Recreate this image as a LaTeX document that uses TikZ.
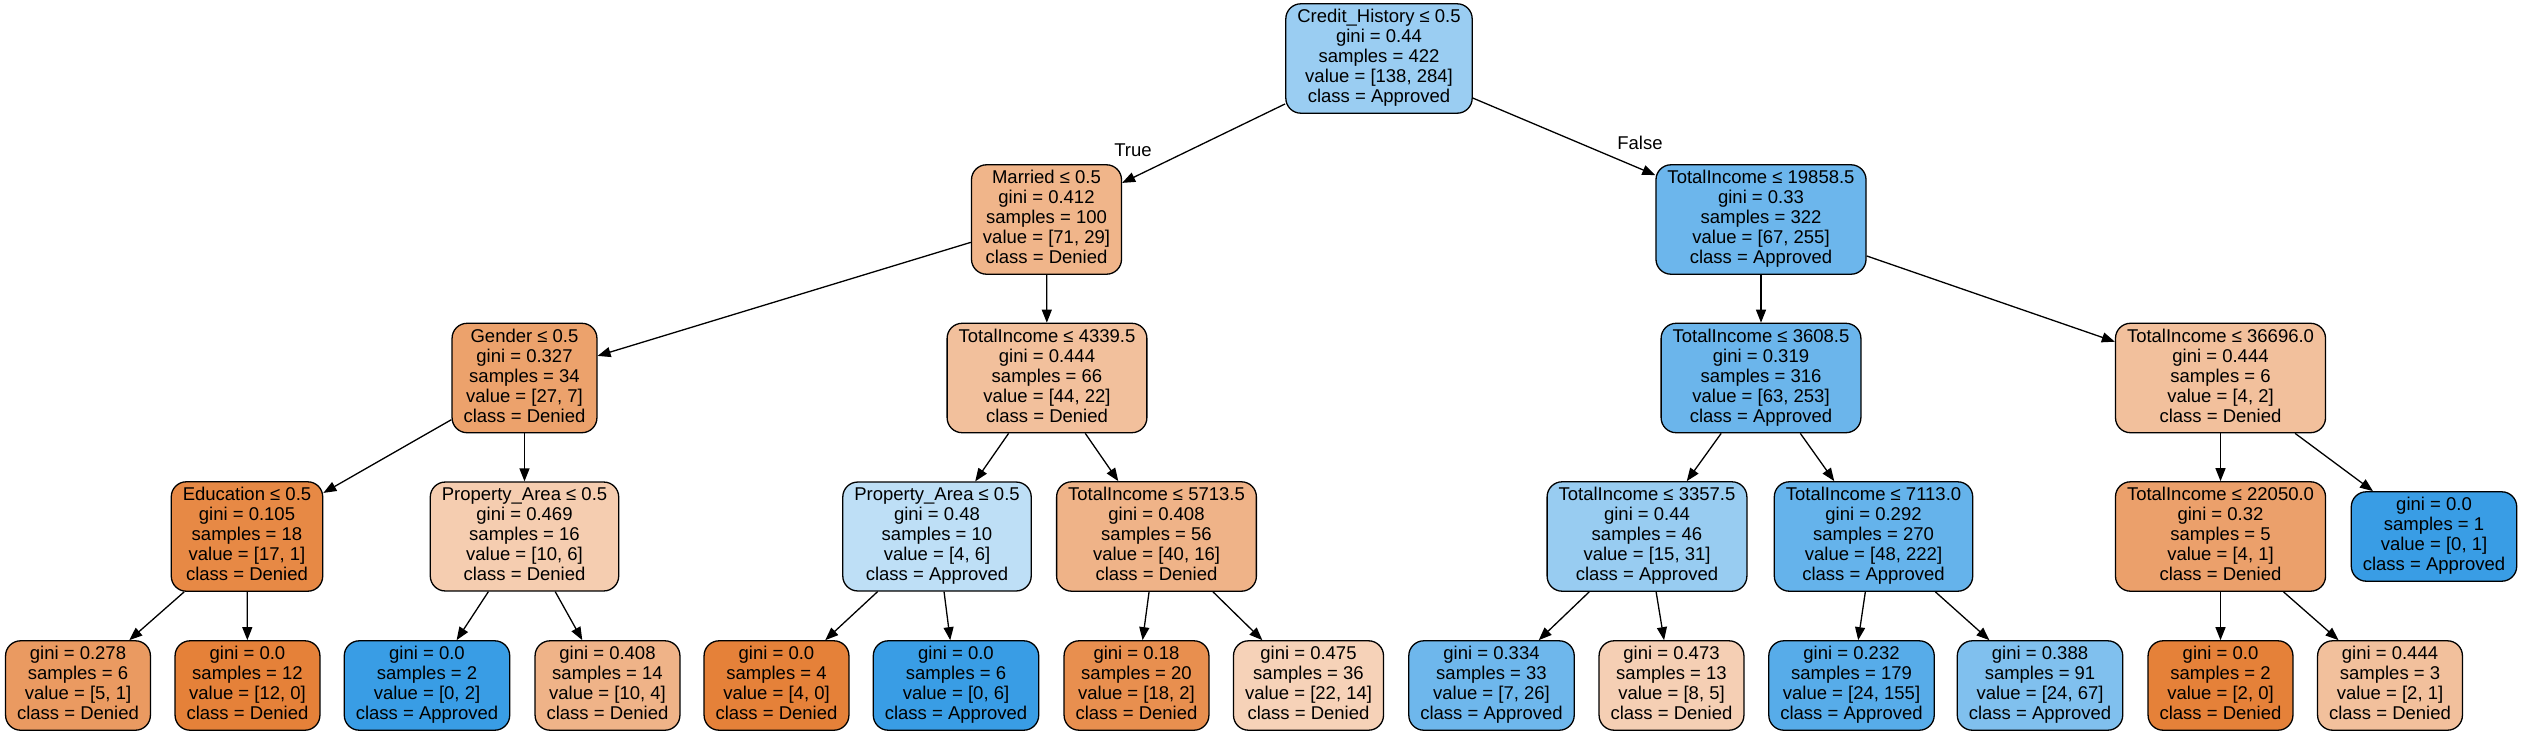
\documentclass[tikz,border=0pt]{standalone}
\usepackage{fontspec}
\setmainfont{Liberation Sans}
\usetikzlibrary{arrows.meta}
\definecolor{den}{RGB}{229,129,57}
\definecolor{app}{RGB}{57,157,229}
\begin{document}
\begin{tikzpicture}[x=1pt,y=-1pt,
  tnode/.style={draw=black, line width=1.3pt, rounded corners=15pt, align=center,
    inner xsep=11.5pt, inner ysep=5.5pt, text=black,
    font=\fontsize{18.5}{20}\selectfont,
    execute at begin node={\rule{0pt}{15pt}},
    execute at end node={\rule[-5pt]{0pt}{5pt}}},
  edgelab/.style={font=\fontsize{18.5}{20}\selectfont, inner sep=0pt},
  conn/.style={draw=black, line width=1.3pt, -{Triangle[length=13pt,width=10pt]}}]
\useasboundingbox[fill=white] (0,0) rectangle (2522,736);

% level 0
\node[tnode, fill=app!51!white] (n0) at (1379,58.5) {Credit\_History ≤ 0.5\\gini = 0.44\\samples = 422\\value = [138, 284]\\class = Approved};
% level 1
\node[tnode, fill=den!59!white] (n1) at (1046.5,219.5) {Married ≤ 0.5\\gini = 0.412\\samples = 100\\value = [71, 29]\\class = Denied};
\node[tnode, fill=app!74!white] (n2) at (1761,219.5) {TotalIncome ≤ 19858.5\\gini = 0.33\\samples = 322\\value = [67, 255]\\class = Approved};
% level 2
\node[tnode, fill=den!74!white] (n3) at (524.5,378) {Gender ≤ 0.5\\gini = 0.327\\samples = 34\\value = [27, 7]\\class = Denied};
\node[tnode, fill=den!50!white] (n4) at (1047,378) {TotalIncome ≤ 4339.5\\gini = 0.444\\samples = 66\\value = [44, 22]\\class = Denied};
\node[tnode, fill=app!75!white] (n5) at (1761,378) {TotalIncome ≤ 3608.5\\gini = 0.319\\samples = 316\\value = [63, 253]\\class = Approved};
\node[tnode, fill=den!50!white] (n6) at (2220.5,378) {TotalIncome ≤ 36696.0\\gini = 0.444\\samples = 6\\value = [4, 2]\\class = Denied};
% level 3
\node[tnode, fill=den!94!white] (n7) at (247,536.5) {Education ≤ 0.5\\gini = 0.105\\samples = 18\\value = [17, 1]\\class = Denied};
\node[tnode, fill=den!40!white] (n8) at (524.5,536.5) {Property\_Area ≤ 0.5\\gini = 0.469\\samples = 16\\value = [10, 6]\\class = Denied};
\node[tnode, fill=app!33!white] (n9) at (937,536.5) {Property\_Area ≤ 0.5\\gini = 0.48\\samples = 10\\value = [4, 6]\\class = Approved};
\node[tnode, fill=den!60!white] (n10) at (1156.5,536.5) {TotalIncome ≤ 5713.5\\gini = 0.408\\samples = 56\\value = [40, 16]\\class = Denied};
\node[tnode, fill=app!52!white] (n11) at (1647,536.5) {TotalIncome ≤ 3357.5\\gini = 0.44\\samples = 46\\value = [15, 31]\\class = Approved};
\node[tnode, fill=app!78!white] (n12) at (1873.5,536.5) {TotalIncome ≤ 7113.0\\gini = 0.292\\samples = 270\\value = [48, 222]\\class = Approved};
\node[tnode, fill=den!75!white] (n13) at (2220.5,536.5) {TotalIncome ≤ 22050.0\\gini = 0.32\\samples = 5\\value = [4, 1]\\class = Denied};
\node[tnode, fill=app] (n14) at (2434,536.5) {gini = 0.0\\samples = 1\\value = [0, 1]\\class = Approved};
% level 4
\node[tnode, fill=den!80!white] (l1) at (78,685.5) {gini = 0.278\\samples = 6\\value = [5, 1]\\class = Denied};
\node[tnode, fill=den] (l2) at (247.5,685.5) {gini = 0.0\\samples = 12\\value = [12, 0]\\class = Denied};
\node[tnode, fill=app] (l3) at (427,685.5) {gini = 0.0\\samples = 2\\value = [0, 2]\\class = Approved};
\node[tnode, fill=den!60!white] (l4) at (607.5,685.5) {gini = 0.408\\samples = 14\\value = [10, 4]\\class = Denied};
\node[tnode, fill=den] (l5) at (776.5,685.5) {gini = 0.0\\samples = 4\\value = [4, 0]\\class = Denied};
\node[tnode, fill=app] (l6) at (956,685.5) {gini = 0.0\\samples = 6\\value = [0, 6]\\class = Approved};
\node[tnode, fill=den!89!white] (l7) at (1136.5,685.5) {gini = 0.18\\samples = 20\\value = [18, 2]\\class = Denied};
\node[tnode, fill=den!36!white] (l8) at (1308.5,685.5) {gini = 0.475\\samples = 36\\value = [22, 14]\\class = Denied};
\node[tnode, fill=app!73!white] (l9) at (1491.5,685.5) {gini = 0.334\\samples = 33\\value = [7, 26]\\class = Approved};
\node[tnode, fill=den!38!white] (l10) at (1671.5,685.5) {gini = 0.473\\samples = 13\\value = [8, 5]\\class = Denied};
\node[tnode, fill=app!85!white] (l11) at (1851.5,685.5) {gini = 0.232\\samples = 179\\value = [24, 155]\\class = Approved};
\node[tnode, fill=app!64!white] (l12) at (2040,685.5) {gini = 0.388\\samples = 91\\value = [24, 67]\\class = Approved};
\node[tnode, fill=den] (l13) at (2220.5,685.5) {gini = 0.0\\samples = 2\\value = [2, 0]\\class = Denied};
\node[tnode, fill=den!50!white] (l14) at (2390,685.5) {gini = 0.444\\samples = 3\\value = [2, 1]\\class = Denied};

% edge labels
\node[edgelab] (tl) at (1133,150) {True};
\node[edgelab] (fl) at (1640,143) {False};

% connectors
\draw[conn] (n0) -- (n1);
\draw[conn] (n0) -- (n2);
\draw[conn] (n1) -- (n3);
\draw[conn] (n1) -- (n4);
\draw[conn] (n2) -- (n5);
\draw[conn] (n2) -- (n6);
\draw[conn] (n3) -- (n7);
\draw[conn] (n3) -- (n8);
\draw[conn] (n4) -- (n9);
\draw[conn] (n4) -- (n10);
\draw[conn] (n5) -- (n11);
\draw[conn] (n5) -- (n12);
\draw[conn] (n6) -- (n13);
\draw[conn] (n6) -- (n14);
\draw[conn] (n7) -- (l1);
\draw[conn] (n7) -- (l2);
\draw[conn] (n8) -- (l3);
\draw[conn] (n8) -- (l4);
\draw[conn] (n9) -- (l5);
\draw[conn] (n9) -- (l6);
\draw[conn] (n10) -- (l7);
\draw[conn] (n10) -- (l8);
\draw[conn] (n11) -- (l9);
\draw[conn] (n11) -- (l10);
\draw[conn] (n12) -- (l11);
\draw[conn] (n12) -- (l12);
\draw[conn] (n13) -- (l13);
\draw[conn] (n13) -- (l14);
\end{tikzpicture}
\end{document}
